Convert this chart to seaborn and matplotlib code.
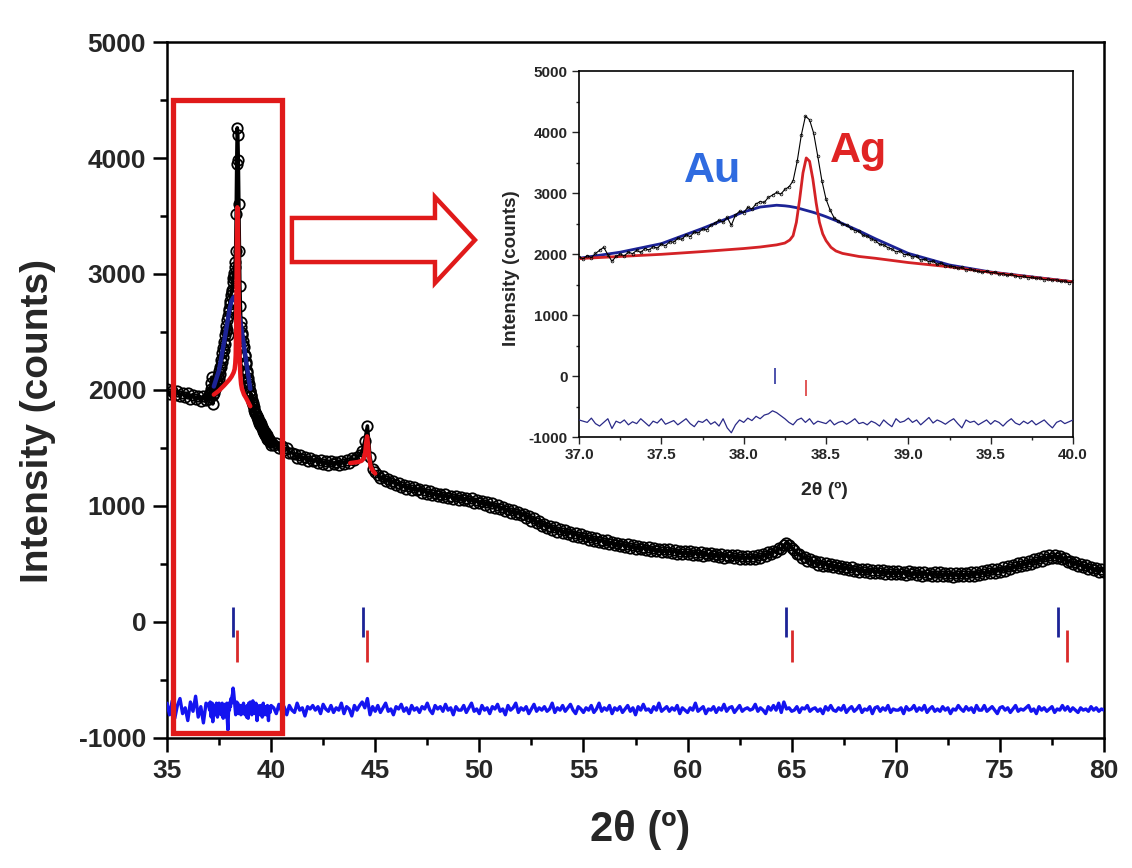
import numpy as np
import pandas as pd
import matplotlib
matplotlib.use("Agg")
import matplotlib.pyplot as plt
import seaborn as sns
from matplotlib.patches import Rectangle, Polygon
from matplotlib.ticker import MultipleLocator, FormatStrFormatter

# ------------------------------------------------------------------ data
# 2-theta scan grids (step scans)
x_low = np.round(np.arange(35.0, 37.0 - 1e-9, 0.125), 3)      # 35.000 .. 36.875
x_fine = np.round(np.linspace(37.0, 40.0, 121), 3)             # 37.000 .. 40.000
x_high = np.round(np.arange(40.125, 80.0 + 1e-9, 0.125), 3)    # 40.125 .. 80.000

# observed intensity (counts)
obs_low = [2010, 1965, 1995, 1955, 1990, 1945, 1975, 1940,
           1970, 1925, 1960, 1920, 1950, 1905, 1945, 1915]

obs_fine = [1955, 1920, 1975, 1940, 2010, 2060, 2110, 1990, 1880, 1960,
            2000, 1970, 2030, 2005, 2060, 2025, 2090, 2065, 2120, 2095,
            2160, 2135, 2200, 2195, 2255, 2240, 2315, 2285, 2360, 2345,
            2410, 2395, 2470, 2505, 2555, 2520, 2600, 2470, 2640, 2700,
            2680, 2765, 2740, 2820, 2860, 2845, 2930, 2965, 3010, 2980,
            3060, 3100, 3200, 3520, 3950, 4260, 4200, 3980, 3600, 3200,
            2900, 2720, 2590, 2545, 2490, 2475, 2420, 2385, 2370, 2305,
            2290, 2245, 2220, 2160, 2150, 2105, 2080, 2035, 2050, 1990,
            1995, 1950, 1960, 1900, 1915, 1870, 1885, 1830, 1850, 1810,
            1800, 1795, 1765, 1780, 1740, 1755, 1730, 1715, 1700, 1720,
            1690, 1705, 1670, 1680, 1650, 1665, 1640, 1625, 1640, 1610,
            1620, 1600, 1610, 1575, 1590, 1570, 1580, 1550, 1560, 1530,
            1550]

obs_high = [1530, 1545, 1500, 1515, 1480, 1500, 1455, 1460,
            1445, 1410, 1440, 1405, 1425, 1390, 1415, 1385,
            1400, 1370, 1395, 1360, 1385, 1350, 1390, 1365,
            1380, 1350, 1390, 1365, 1395, 1370, 1410, 1395,
            1420, 1440, 1470, 1560, 1690, 1420, 1320, 1290,
            1270, 1240, 1255, 1215, 1235, 1200, 1215, 1185,
            1195, 1165, 1180, 1150, 1170, 1140, 1160, 1135,
            1150, 1115, 1135, 1105, 1125, 1095, 1115, 1090,
            1105, 1075, 1100, 1070, 1090, 1060, 1085, 1055,
            1080, 1050, 1070, 1040, 1065, 1030, 1055, 1025,
            1045, 1010, 1035, 995, 1025, 985, 1005, 975,
            990, 955, 975, 940, 965, 930, 950, 920,
            935, 900, 915, 870, 895, 850, 870, 830,
            845, 810, 830, 795, 815, 780, 800, 770,
            790, 760, 780, 745, 765, 735, 755, 725,
            745, 710, 730, 700, 720, 690, 710, 680,
            705, 675, 690, 660, 685, 655, 675, 650,
            670, 640, 660, 630, 655, 625, 650, 620,
            645, 615, 640, 610, 630, 600, 625, 605,
            625, 595, 620, 590, 615, 585, 610, 590,
            610, 580, 600, 575, 605, 570, 595, 575,
            595, 565, 590, 560, 585, 555, 580, 560,
            580, 550, 575, 545, 570, 540, 565, 545,
            570, 545, 575, 555, 590, 570, 605, 590,
            615, 600, 635, 625, 660, 680, 665, 640,
            620, 590, 585, 555, 560, 530, 545, 515,
            525, 495, 515, 485, 510, 480, 500, 475,
            490, 465, 485, 455, 475, 445, 470, 440,
            460, 435, 460, 430, 455, 425, 450, 425,
            450, 420, 445, 415, 440, 415, 440, 410,
            440, 410, 435, 405, 440, 410, 430, 405,
            435, 400, 430, 405, 425, 395, 430, 400,
            430, 395, 425, 400, 420, 390, 425, 395,
            425, 395, 420, 400, 430, 400, 435, 405,
            440, 410, 445, 420, 455, 425, 460, 435,
            470, 440, 480, 455, 490, 470, 505, 480,
            515, 490, 525, 500, 540, 515, 555, 530,
            565, 540, 575, 550, 580, 555, 570, 545,
            555, 520, 530, 500, 515, 480, 500, 470,
            490, 460, 475, 445, 465, 435, 460, 430]

# difference curve (obs - calc, offset)
diff_low = [-700, -800, -680, -830, -720, -660, -790, -740,
            -850, -690, -770, -640, -820, -730, -870, -700]

diff_fine = [-720, -740, -760, -690, -780, -820, -760, -700, -860, -740,
             -770, -720, -800, -750, -780, -700, -760, -820, -740, -770,
             -700, -790, -760, -730, -800, -750, -700, -780, -830, -740,
             -760, -710, -790, -750, -820, -700, -850, -930, -800, -720,
             -760, -690, -730, -660, -700, -640, -620, -570, -600, -650,
             -700, -760, -800, -720, -690, -760, -700, -790, -740, -760,
             -780, -720, -800, -760, -740, -790, -750, -700, -780, -760,
             -800, -740, -770, -820, -720, -780, -830, -700, -760, -740,
             -690, -760, -720, -800, -740, -680, -770, -720, -750, -790,
             -740, -700, -780, -850, -720, -760, -740, -800, -760, -720,
             -790, -730, -760, -820, -750, -700, -770, -800, -740, -780,
             -730, -800, -760, -720, -790, -850, -760, -730, -780, -750,
             -720]

diff_high = [-740, -790, -710, -770, -730, -800, -720, -760,
             -780, -700, -760, -740, -810, -730, -750, -720,
             -760, -730, -790, -710, -750, -770, -720, -780,
             -740, -760, -700, -790, -730, -750, -810, -720,
             -760, -720, -690, -740, -660, -800, -730, -770,
             -720, -780, -740, -700, -770, -750, -800, -730,
             -750, -710, -770, -740, -790, -720, -760, -740,
             -780, -730, -750, -700, -760, -790, -720, -750,
             -730, -770, -710, -760, -740, -800, -730, -760,
             -760, -720, -780, -740, -700, -770, -750, -790,
             -720, -760, -740, -790, -730, -750, -710, -770,
             -750, -800, -720, -760, -740, -700, -780, -740,
             -760, -730, -790, -750, -710, -770, -740, -760,
             -730, -770, -750, -700, -780, -740, -760, -720,
             -770, -740, -710, -760, -790, -730, -750, -780,
             -740, -760, -720, -780, -750, -700, -770, -740,
             -760, -720, -790, -740, -760, -730, -780, -750,
             -720, -770, -740, -800, -730, -760, -710, -760,
             -750, -780, -730, -760, -700, -770, -750, -730,
             -770, -740, -760, -720, -790, -740, -760, -780,
             -740, -760, -700, -770, -750, -730, -790, -750,
             -760, -730, -780, -740, -760, -710, -770, -740,
             -730, -780, -750, -720, -770, -750, -740, -760,
             -750, -710, -770, -740, -760, -790, -730, -760,
             -720, -760, -700, -780, -690, -750, -740, -770,
             -760, -730, -780, -740, -750, -720, -770, -750,
             -740, -770, -750, -790, -730, -760, -720, -760,
             -770, -740, -760, -720, -780, -750, -730, -770,
             -750, -720, -780, -750, -760, -730, -790, -740,
             -730, -770, -740, -760, -720, -780, -750, -760,
             -760, -740, -790, -730, -760, -750, -720, -770,
             -740, -760, -720, -780, -750, -730, -770, -750,
             -770, -730, -760, -740, -790, -750, -760, -720,
             -750, -770, -730, -760, -740, -780, -720, -760,
             -760, -720, -770, -750, -730, -760, -790, -740,
             -730, -760, -740, -780, -750, -720, -770, -750,
             -760, -740, -720, -770, -750, -790, -730, -760,
             -740, -770, -750, -730, -780, -750, -760, -720,
             -760, -730, -770, -740, -760, -780, -740, -760,
             -750, -770, -730, -760, -740, -770, -750, -760]

# fitted phase profiles around the (111) reflections
comp_x = [37.00, 37.25, 37.50, 37.75, 38.00, 38.10, 38.20, 38.25, 38.28, 38.30,
          38.32, 38.34, 38.36, 38.38, 38.40, 38.42, 38.44, 38.46, 38.48, 38.50,
          38.53, 38.56, 38.60, 38.70, 38.80, 39.00, 39.25, 39.50, 39.75, 40.00]
au_fit = [1930, 2030, 2170, 2420, 2690, 2770, 2800, 2790, 2780, 2770,
          2760, 2745, 2730, 2715, 2700, 2685, 2668, 2650, 2632, 2612,
          2580, 2548, 2500, 2380, 2250, 2010, 1820, 1705, 1625, 1545]
ag_fit = [1925, 1960, 1995, 2040, 2090, 2115, 2150, 2180, 2230, 2300,
          2520, 2900, 3330, 3575, 3520, 3230, 2840, 2520, 2330, 2220,
          2110, 2050, 2010, 1960, 1930, 1860, 1790, 1700, 1620, 1545]

# Ag (200) profile in the full pattern
ag2_x = [43.80, 44.00, 44.20, 44.35, 44.45, 44.52, 44.57, 44.61, 44.65, 44.70,
         44.78, 44.90, 45.00]
ag2_fit = [1370, 1375, 1380, 1390, 1410, 1460, 1550, 1600, 1540, 1430,
           1340, 1300, 1280]

# Bragg reflection positions
au_refl = [38.19, 44.42, 64.75, 77.80]
ag_refl = [38.38, 44.60, 65.03, 78.20]

# --------------------------------------------------------------- frames
x_all = np.concatenate([x_low, x_fine, x_high])
main_df = pd.DataFrame({"two_theta": x_all,
                        "obs": obs_low + obs_fine + obs_high,
                        "diff": diff_low + diff_fine + diff_high})
fine_df = pd.DataFrame({"two_theta": x_fine, "obs": obs_fine, "diff": diff_fine})
comp_df = pd.DataFrame({"two_theta": comp_x, "au": au_fit, "ag": ag_fit})
ag2_df = pd.DataFrame({"two_theta": ag2_x, "ag": ag2_fit})

# --------------------------------------------------------------- style
sns.set_theme(style="ticks")
plt.rcParams["font.family"] = ["Liberation Sans", "DejaVu Sans"]
plt.rcParams["font.weight"] = "bold"
plt.rcParams["axes.labelweight"] = "bold"
plt.rcParams["axes.unicode_minus"] = False

C_OBS = "black"
C_AU = "#1c2396"
C_AG = "#e8161b"
C_DIFF = "#1414f0"
C_AU_TICK = "#1c2396"
C_AG_TICK = "#d92a2a"
C_FRAME = "#e01a1a"

fig = plt.figure(figsize=(11.32, 8.68), dpi=100)
fig.patch.set_facecolor("white")
ax = fig.add_axes([0.1475, 0.1498, 0.8278, 0.8018])
ax.set_facecolor("white")

# observed
sns.lineplot(data=main_df, x="two_theta", y="obs", ax=ax, color=C_OBS, lw=2.6,
             marker="o", ms=7.5, mfc="none", mec="black", mew=1.3,
             estimator=None, sort=False, zorder=3)
# phase profiles (visible parts)
cm = comp_df[(comp_df.two_theta >= 37.25) & (comp_df.two_theta <= 39.0)]
sns.lineplot(data=cm, x="two_theta", y="au", ax=ax, color=C_AU, lw=3.2,
             estimator=None, sort=False, zorder=4)
sns.lineplot(data=cm, x="two_theta", y="ag", ax=ax, color=C_AG, lw=3.2,
             estimator=None, sort=False, zorder=5)
sns.lineplot(data=ag2_df, x="two_theta", y="ag", ax=ax, color=C_AG, lw=3.2,
             estimator=None, sort=False, zorder=5)
# difference
sns.lineplot(data=main_df, x="two_theta", y="diff", ax=ax, color=C_DIFF, lw=2.4,
             estimator=None, sort=False, zorder=3)
# Bragg ticks
ax.vlines(au_refl, 130, -130, color=C_AU_TICK, lw=2.0, zorder=4)
ax.vlines(ag_refl, -70, -345, color=C_AG_TICK, lw=2.0, zorder=4)

ax.set_xlim(35, 80)
ax.set_ylim(-1000, 5000)
ax.xaxis.set_major_locator(MultipleLocator(5))
ax.xaxis.set_minor_locator(MultipleLocator(2.5))
ax.yaxis.set_major_locator(MultipleLocator(1000))
ax.yaxis.set_minor_locator(MultipleLocator(500))
ax.tick_params(which="major", direction="out", length=10, width=1.8,
               labelsize=19, top=False, right=False, color="black", pad=5)
ax.tick_params(which="minor", direction="out", length=5, width=1.8,
               top=False, right=False, color="black")
for s in ax.spines.values():
    s.set_linewidth(1.8)
    s.set_color("black")
    s.set_visible(True)

ax.set_xlabel("2θ (º)", fontsize=30)
ax.set_ylabel("Intensity (counts)", fontsize=28)
ax.xaxis.set_label_coords(0.505, -0.103)
ax.yaxis.set_label_coords(-0.118, 0.455)

# zoom frame and arrow
ax.add_patch(Rectangle((35.31, -961), 40.50 - 35.31, 4504 + 961, fill=False,
                       ec=C_FRAME, lw=3.8, zorder=6))
arrow_x = [41.0, 47.87, 47.87, 49.79, 47.87, 47.87, 41.0]
arrow_y = [3483, 3483, 3664, 3293, 2922, 3103, 3103]
ax.add_patch(Polygon(np.column_stack([arrow_x, arrow_y]), closed=True,
                     fill=False, ec=C_FRAME, lw=3.2, joinstyle="miter", zorder=6))

# ---------------------------------------------------------------- inset
axin = fig.add_axes([0.5115, 0.4965, 0.4364, 0.4217])
axin.set_facecolor("white")
axin.set_zorder(10)

sns.lineplot(data=comp_df, x="two_theta", y="au", ax=axin, color=C_AU, lw=2.0,
             estimator=None, sort=False, zorder=2)
sns.lineplot(data=comp_df, x="two_theta", y="ag", ax=axin, color="#d42226", lw=2.0,
             estimator=None, sort=False, zorder=3)
sns.lineplot(data=fine_df, x="two_theta", y="obs", ax=axin, color="black", lw=0.8,
             marker="o", ms=2.0, mfc="none", mec="black", mew=0.5,
             estimator=None, sort=False, zorder=4)
sns.lineplot(data=fine_df, x="two_theta", y="diff", ax=axin, color="#2a2a88", lw=0.9,
             estimator=None, sort=False, zorder=3)
axin.vlines(au_refl[:1], 128, -134, color=C_AU_TICK, lw=1.1, zorder=4)
axin.vlines(ag_refl[:1], -63, -335, color=C_AG_TICK, lw=1.1, zorder=4)

axin.text(37.81, 3185, "Au", color="#2f6be0", fontsize=31, fontweight="bold",
          ha="center", va="baseline")
axin.text(38.70, 3513, "Ag", color="#e02424", fontsize=31, fontweight="bold",
          ha="center", va="baseline")

axin.set_xlim(37.0, 40.0)
axin.set_ylim(-1000, 5000)
axin.xaxis.set_major_locator(MultipleLocator(0.5))
axin.xaxis.set_minor_locator(MultipleLocator(0.25))
axin.xaxis.set_major_formatter(FormatStrFormatter("%.1f"))
axin.yaxis.set_major_locator(MultipleLocator(1000))
axin.yaxis.set_minor_locator(MultipleLocator(500))
axin.tick_params(which="major", direction="out", length=5, width=1.0,
                 labelsize=11, top=False, right=False, pad=3)
axin.tick_params(which="minor", direction="out", length=2.5, width=1.0,
                 top=False, right=False)
for s in axin.spines.values():
    s.set_linewidth(1.2)
    s.set_color("black")
    s.set_visible(True)
axin.set_xlabel("2θ (º)", fontsize=14)
axin.set_ylabel("Intensity (counts)", fontsize=13.5)
axin.xaxis.set_label_coords(0.496, -0.123)
axin.yaxis.set_label_coords(-0.119, 0.462)

fig.savefig("out.png", dpi=100, facecolor="white")
